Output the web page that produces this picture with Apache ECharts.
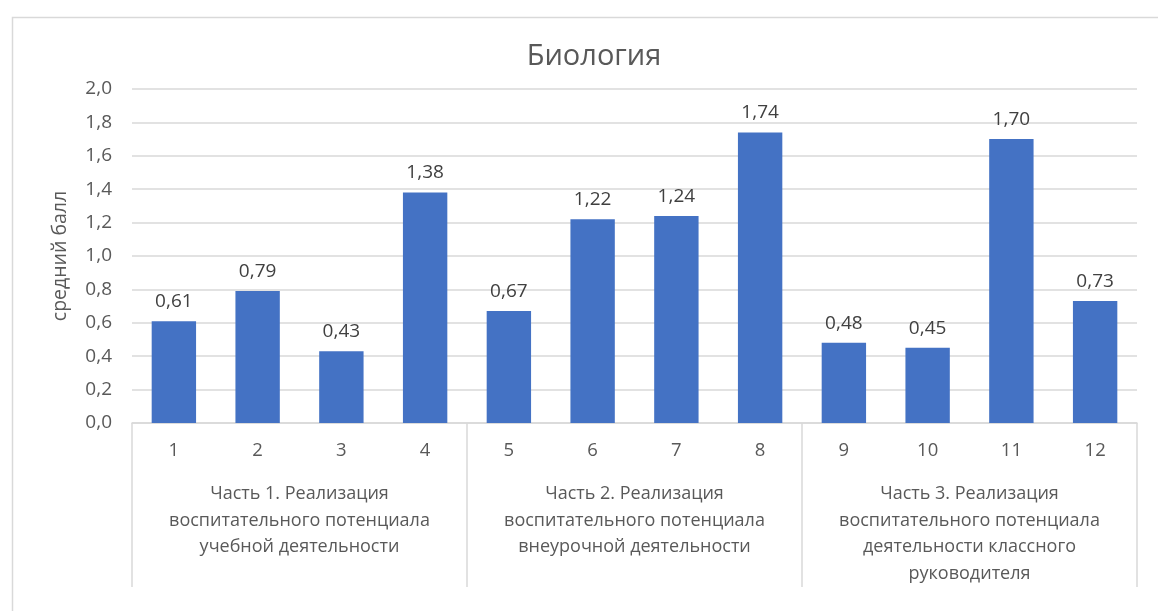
<!DOCTYPE html>
<html><head><meta charset="utf-8">
<script src="https://cdn.jsdelivr.net/npm/echarts@6/dist/echarts.min.js"></script>
<style>html,body{margin:0;padding:0;background:#fff}#c{width:1158px;height:611px}</style>
</head><body><div id="c"></div>
<script>
const categories = ['1','2','3','4','5','6','7','8','9','10','11','12'];
const values = [0.61, 0.79, 0.43, 1.38, 0.67, 1.22, 1.24, 1.74, 0.48, 0.45, 1.70, 0.73];
const groups = [
  'Часть 1. Реализация\nвоспитательного потенциала\nучебной деятельности',
  'Часть 2. Реализация\nвоспитательного потенциала\nвнеурочной деятельности',
  'Часть 3. Реализация\nвоспитательного потенциала\nдеятельности классного\nруководителя'
];
const titleText = 'Биология';
const yName = 'средний балл';
const FONT = 'Open Sans';
const comma = (v, d) => v.toFixed(d).replace('.', ',');

const chart = echarts.init(document.getElementById('c'), null, {renderer: 'canvas'});
chart.setOption({
  animation: false,
  textStyle: {fontFamily: FONT},
  graphic: [{type: 'rect', left: 10, top: 15, shape: {width: 1300, height: 800}, style: {fill: 'none', stroke: '#d9d9d9', lineWidth: 1.5}, z: -1}],
  title: {text: titleText, left: 589, top: 37, textAlign: 'center',
    textStyle: {fontFamily: FONT, fontSize: 29, fontWeight: 'normal', color: '#595959'}},
  grid: {left: 132, right: 21, top: 89, bottom: 188, containLabel: false},
  xAxis: [{
    type: 'category', data: categories, position: 'bottom',
    axisLine: {lineStyle: {color: '#d9d9d9', width: 1.5}},
    axisTick: {show: false},
    axisLabel: {margin: 18, fontSize: 18.5, color: '#595959', fontFamily: FONT}
  }, {
    type: 'category', data: groups, position: 'bottom', gridIndex: 0,
    axisLine: {show: false},
    axisTick: {show: true, length: 164, alignWithLabel: false, interval: 0, lineStyle: {color: '#d9d9d9', width: 1.5}},
    axisLabel: {margin: 58, fontSize: 18, lineHeight: 26.5, color: '#595959', fontFamily: FONT, interval: 0}
  }],
  yAxis: {
    type: 'value', min: 0, max: 2, interval: 0.2,
    name: yName, nameLocation: 'middle', nameRotate: 90, nameGap: 62,
    nameTextStyle: {fontSize: 19.5, color: '#595959', fontFamily: FONT},
    axisLine: {show: false}, axisTick: {show: false},
    splitLine: {lineStyle: {color: '#d9d9d9', width: 1.5}},
    axisLabel: {margin: 20, fontSize: 19, color: '#595959', fontFamily: FONT, formatter: v => comma(v, 1)}
  },
  series: [{
    type: 'bar', data: values, xAxisIndex: 0, barWidth: '53%',
    itemStyle: {color: '#4472C4'},
    label: {show: true, position: 'top', distance: 10, fontSize: 19, color: '#404040', fontFamily: FONT,
      formatter: p => comma(p.value, 2)}
  }]
});
</script></body></html>
